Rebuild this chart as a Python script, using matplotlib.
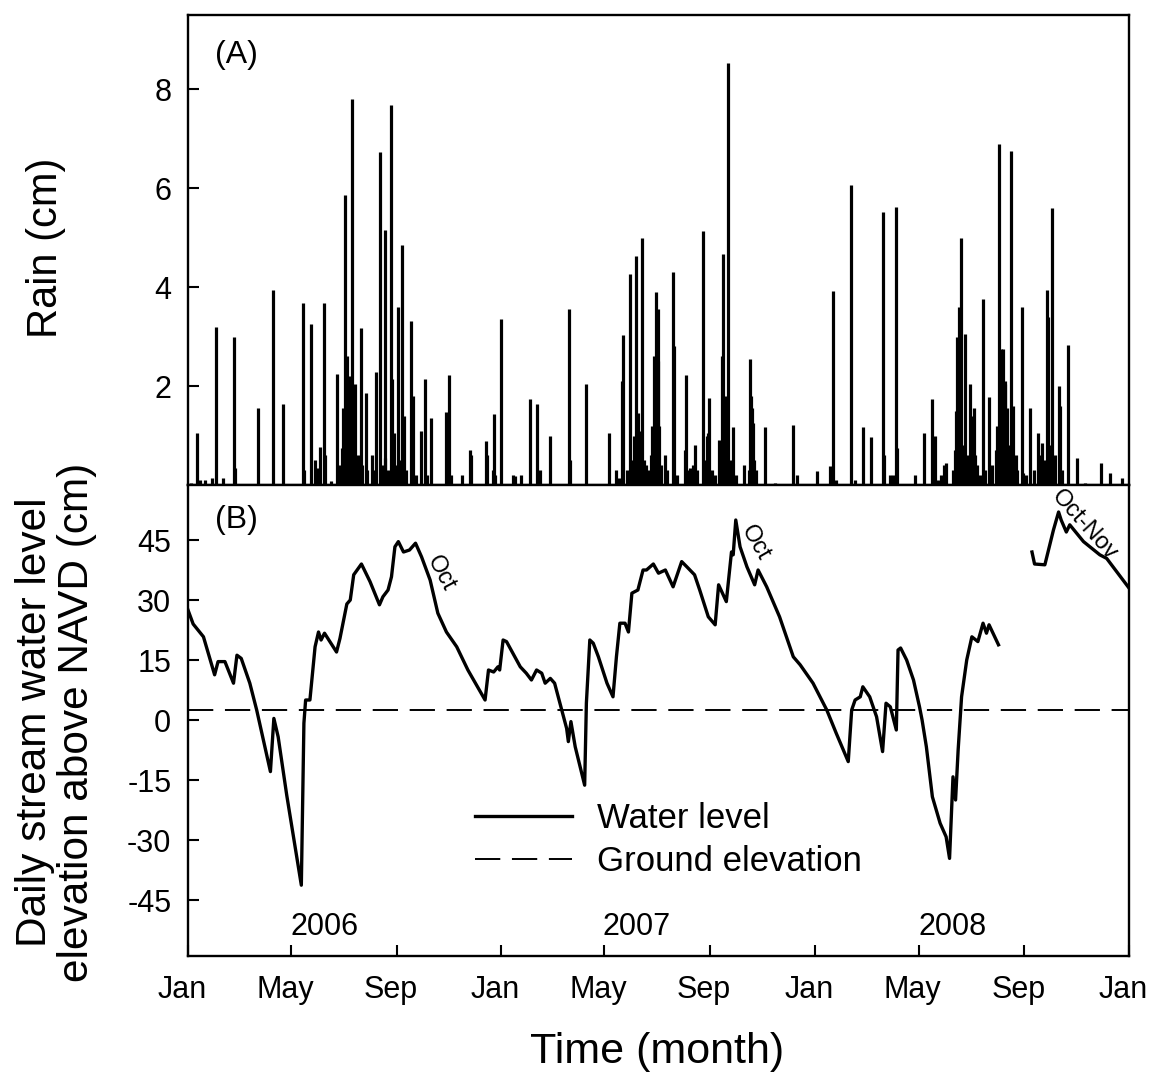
import numpy as np
import matplotlib
matplotlib.use("Agg")
import matplotlib.pyplot as plt
import matplotlib.transforms as mtransforms

plt.rcParams['font.family'] = ['Liberation Sans', 'DejaVu Sans']

START = np.datetime64('2006-01-01')

# ---------------- Rain (cm), day offsets from 2006-01-01 ----------------
rain_day = [4, 11, 14, 20, 28, 33, 41, 54, 55, 81, 99, 111, 134, 135, 143, 148, 150, 154, 158, 159,
            167, 174, 176, 179, 181, 182, 183, 185, 186, 187, 188, 189, 191, 192, 194, 196, 198, 201,
            203, 207, 209, 214, 216, 219, 224, 226, 229, 230, 233, 236, 238, 240, 242, 245, 247, 249,
            252, 254, 260, 262, 266, 271, 276, 278, 283, 300, 302, 304, 306, 319, 329, 330, 347, 348,
            355, 356, 357, 365, 378, 381, 388, 398, 406, 410, 422, 444, 445, 463, 490, 498, 502, 505,
            507, 511, 515, 518, 520, 522, 524, 526, 527, 529, 531, 533, 536, 539, 541, 543, 544, 545,
            546, 547, 548, 549, 551, 556, 558, 565, 566, 570, 579, 580, 582, 585, 588, 590, 593, 600,
            601, 604, 606, 607, 610, 614, 618, 620, 622, 623, 625, 627, 629, 631, 633, 635, 638, 648,
            653, 655, 656, 657, 658, 659, 661, 672, 684, 705, 709, 733, 748, 751, 755, 772, 777, 786,
            796, 810, 811, 818, 821, 825, 826, 847, 857, 867, 870, 873, 877, 880, 883, 891, 893, 895,
            896, 897, 898, 899, 900, 901, 902, 904, 905, 907, 909, 911, 913, 914, 916, 917, 919, 922,
            926, 928, 933, 937, 941, 942, 943, 945, 946, 947, 948, 949, 950, 951, 952, 953, 954, 955,
            957, 959, 960, 961, 962, 964, 966, 971, 973, 976, 981, 985, 990, 993, 995, 997, 1000, 1002,
            1004, 1006, 1008, 1010, 1015, 1016, 1018, 1025, 1035, 1045, 1063, 1074, 1088]
rain_cm = [0.05, 1.05, 0.1, 0.1, 0.15, 3.2, 0.15, 3.0, 0.35, 1.55, 3.95, 1.64, 3.67, 0.3, 3.25, 0.5, 0.35, 0.77, 3.67, 0.6,
           0.08, 2.24, 0.4, 0.75, 1.55, 1.0, 5.86, 2.6, 1.2, 2.2, 0.8, 1.5, 7.8, 0.9, 2.05, 0.5, 0.6, 3.17,
           0.4, 1.85, 0.3, 0.6, 0.3, 2.28, 6.73, 0.4, 5.15, 0.55, 0.3, 7.68, 2.15, 1.05, 0.4, 3.6, 0.5, 4.85,
           1.4, 0.3, 3.32, 1.8, 0.2, 1.1, 2.14, 0.2, 1.35, 1.47, 0.2, 2.22, 0.2, 0.2, 0.7, 0.6, 0.88, 0.6,
           0.3, 1.43, 0.2, 3.36, 0.2, 0.18, 0.2, 1.74, 1.63, 0.3, 1.0, 3.55, 0.5, 2.05, 1.06, 0.3, 0.15, 2.1,
           3.04, 0.3, 4.27, 0.5, 1.0, 4.63, 1.45, 1.1, 0.8, 5.0, 0.5, 0.4, 0.3, 0.6, 1.2, 2.6, 1.5, 3.9,
           2.6, 3.55, 2.5, 1.2, 0.4, 0.6, 0.3, 4.31, 2.8, 0.2, 0.7, 2.22, 0.3, 0.35, 0.4, 0.8, 0.3, 5.14,
           0.5, 1.0, 1.05, 1.75, 0.3, 0.2, 0.9, 0.4, 2.6, 4.66, 0.6, 1.8, 8.54, 0.5, 0.4, 1.17, 0.2, 0.4,
           0.3, 2.55, 1.8, 1.55, 1.25, 0.5, 0.3, 1.17, 0.05, 1.22, 0.2, 0.28, 0.38, 3.93, 0.1, 6.06, 0.1, 1.17,
           0.98, 5.52, 0.6, 0.2, 0.2, 5.62, 0.75, 0.2, 1.05, 1.74, 1.0, 0.1, 0.2, 0.4, 0.45, 0.3, 0.7, 1.5,
           3.0, 2.0, 3.6, 1.2, 5.0, 0.8, 0.4, 0.5, 3.05, 0.6, 0.3, 2.05, 1.4, 0.4, 1.55, 0.6, 0.4, 0.2,
           3.75, 0.3, 1.77, 0.4, 0.7, 1.2, 0.6, 6.9, 1.5, 2.75, 1.8, 2.75, 1.2, 2.1, 2.05, 1.0, 1.55, 0.6,
           0.8, 6.75, 1.0, 1.6, 0.5, 0.6, 0.3, 3.6, 0.25, 0.2, 1.55, 0.3, 1.05, 0.6, 0.85, 0.5, 3.95, 3.4,
           0.8, 5.6, 0.5, 0.6, 2.0, 1.6, 0.3, 2.83, 0.55, 0.05, 0.45, 0.25, 0.15]

# ---------------- Water level (cm above NAVD) ----------------
wl1_day = [0, 6, 18, 31, 35, 43, 53, 57, 62, 72, 80, 96, 100, 105, 115, 132, 135, 137, 142, 148,
           152, 155, 159, 173, 177, 185, 189, 193, 202, 212, 223, 227, 233, 237, 241, 245, 251, 258,
           265, 272, 282, 291, 301, 313, 326, 346, 350, 356, 361, 363, 367, 371, 387, 394, 400, 406,
           412, 416, 422, 427, 441, 443, 446, 451, 462, 464, 468, 472, 478, 488, 495, 499, 503, 509,
           513, 517, 524, 530, 534, 542, 548, 556, 565, 575, 581, 590, 596, 606, 614, 618, 627, 633,
           635, 638, 643, 651, 660, 664, 674, 689, 705, 713, 728, 744, 755, 769, 773, 777, 783, 786,
           794, 802, 809, 813, 818, 825, 827, 830, 837, 845, 852, 855, 860, 867, 876, 883, 887, 891,
           894, 897, 901, 907, 913, 920, 926, 930, 933, 944]
wl1_cm = [27.5, 24.0, 20.8, 11.3, 14.6, 14.6, 9.2, 16.2, 15.4, 9.2, 2.5, -12.9, 0.4, -4.2, -18.8, -41.3, -0.8, 5.0, 5.0, 18.3,
          22.0, 20.0, 21.7, 17.0, 20.4, 29.0, 30.0, 36.3, 39.0, 34.6, 28.8, 30.8, 32.5, 35.8, 43.3, 44.6, 42.0, 42.5,
          44.2, 40.8, 35.0, 26.7, 22.0, 18.3, 12.5, 5.0, 12.5, 12.0, 13.3, 12.5, 20.0, 19.6, 13.3, 11.7, 10.0, 12.5,
          11.7, 9.2, 10.4, 9.2, -2.1, -5.4, -0.4, -6.7, -16.3, 4.2, 20.0, 19.2, 15.8, 9.2, 5.8, 15.8, 24.2, 24.2,
          22.0, 31.7, 32.5, 37.5, 37.5, 39.0, 36.7, 37.5, 33.3, 39.6, 38.3, 36.3, 32.5, 25.8, 23.8, 33.8, 29.6, 42.0,
          41.3, 50.0, 43.3, 38.3, 33.8, 37.5, 33.3, 25.8, 15.8, 13.8, 9.2, 2.5, -3.3, -10.4, 2.5, 5.0, 5.8, 8.3,
          5.8, 0.8, -7.9, 4.2, 3.3, -2.5, 17.5, 18.0, 15.0, 10.0, 3.3, 0.0, -6.7, -19.2, -25.8, -29.2, -34.6, -14.2,
          -20.0, -7.5, 5.8, 15.0, 20.8, 19.6, 24.2, 21.7, 23.8, 18.8]
wl2_day = [983, 986, 998, 1008, 1014, 1017, 1023, 1027, 1043, 1062, 1070, 1096]
wl2_cm = [42.0, 39.0, 38.8, 47.5, 52.0, 50.0, 47.0, 48.8, 44.6, 41.3, 40.4, 33.0]

ground_elev_cm = 2.5

tick_dates = ['2006-01-01', '2006-05-01', '2006-09-01', '2007-01-01', '2007-05-01', '2007-09-01',
              '2008-01-01', '2008-05-01', '2008-09-01', '2009-01-01']
tick_labels = ['Jan', 'May', 'Sep', 'Jan', 'May', 'Sep', 'Jan', 'May', 'Sep', 'Jan']
year_labels = ['2006', '2007', '2008']
year_label_xfrac = [0.1456, 0.477, 0.813]

rain_ticks = [2, 4, 6, 8]
level_ticks = [-45, -30, -15, 0, 15, 30, 45]


def to_dates(days):
    return START + np.array(days, dtype='timedelta64[D]')


fig = plt.figure(figsize=(11.49, 10.78), dpi=100)
axA = fig.add_axes([0.16362, 0.55009, 0.81897, 0.43599])
axB = fig.add_axes([0.16362, 0.11317, 0.81897, 0.43692])

xmin = np.datetime64('2006-01-01')
xmax = np.datetime64('2009-01-01')

# Panel A
axA.vlines(to_dates(rain_day), 0, rain_cm, colors='black', linewidth=2.3)
axA.set_xlim(xmin, xmax)
axA.set_ylim(0, 9.5)
axA.set_yticks(rain_ticks)
axA.set_yticklabels([str(t) for t in rain_ticks])
axA.tick_params(axis='x', bottom=False, labelbottom=False)
axA.text(0.029, 0.915, '(A)', transform=axA.transAxes, fontsize=23, ha='left', va='center')

# Panel B
axB.plot(to_dates(wl1_day), wl1_cm, color='black', linewidth=2.4, label='Water level')
axB.plot(to_dates(wl2_day), wl2_cm, color='black', linewidth=2.4)
axB.axhline(ground_elev_cm, color='black', linewidth=1.4, dashes=(13, 6), label='Ground elevation')
axB.set_xlim(xmin, xmax)
axB.set_ylim(-59, 58.75)
axB.set_yticks(level_ticks)
axB.set_yticklabels([str(t) for t in level_ticks])
axB.set_xticks(np.array(tick_dates, dtype='datetime64[D]'))
axB.set_xticklabels(tick_labels)
axB.text(0.029, 0.926, '(B)', transform=axB.transAxes, fontsize=23, ha='left', va='center')

for lab, xf in zip(year_labels, year_label_xfrac):
    axB.text(xf, 0.045, lab, transform=axB.transAxes, fontsize=22, ha='center', va='baseline')

axB.text(0.269, 0.812, 'Oct', transform=axB.transAxes, fontsize=17, rotation=-62, ha='center', va='center')
axB.text(0.6026, 0.876, 'Oct', transform=axB.transAxes, fontsize=17, rotation=-60, ha='center', va='center')
axB.text(0.953, 0.915, 'Oct-Nov', transform=axB.transAxes, fontsize=17, rotation=-48, ha='center', va='center')

leg = axB.legend(loc='center left', bbox_to_anchor=(0.305, 0.246), frameon=False, fontsize=25,
                 handlelength=2.8, handletextpad=0.7, labelspacing=0.3, borderpad=0, borderaxespad=0)

for ax in (axA, axB):
    for sp in ax.spines.values():
        sp.set_linewidth(1.7)
    ax.tick_params(direction='in', width=1.5, length=8, labelsize=22)
    ax.tick_params(axis='y', pad=12)
axB.tick_params(axis='x', pad=14)

offset = mtransforms.ScaledTranslation(-6 / 100, 0, fig.dpi_scale_trans)
for lab in axB.get_xticklabels():
    lab.set_transform(lab.get_transform() + offset)

fig.text(46 / 1149, 1 - 248 / 1078, 'Rain (cm)', rotation=90, ha='center', va='center', fontsize=30)
fig.text(56 / 1149, 1 - 722 / 1078, 'Daily stream water level\nelevation above NAVD (cm)', rotation=90,
         ha='center', va='center', fontsize=30.5, linespacing=1.05)
fig.text(657 / 1149, 1 - 1052 / 1078, 'Time (month)', ha='center', va='center', fontsize=31)

fig.savefig('out.png', dpi=100)
